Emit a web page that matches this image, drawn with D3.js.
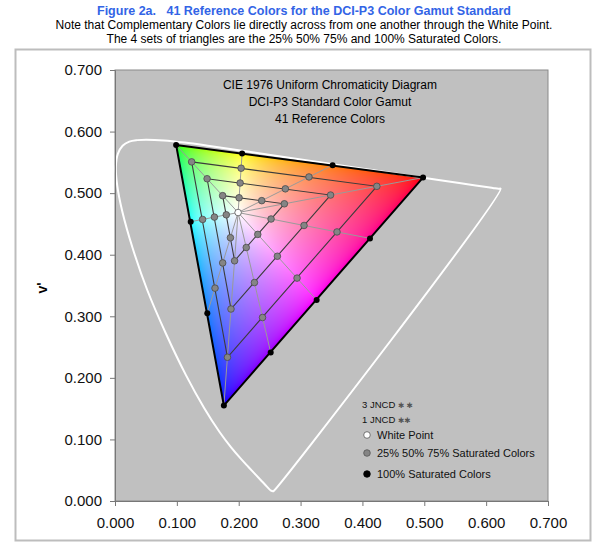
<!DOCTYPE html>
<html><head><meta charset="utf-8">
<script src="https://cdn.jsdelivr.net/npm/d3@7"></script>
<style>
body{margin:0;background:#fff}
svg{display:block}
text{font-family:"Liberation Sans",Arial,Helvetica,sans-serif}
</style>
</head><body>
<svg id="chart" width="600" height="545"></svg>
<script>
// ---------------- data ----------------
const titleLines = [
  "Figure 2a.   41 Reference Colors for the DCI-P3 Color Gamut Standard",
  "Note that Complementary Colors lie directly across from one another through the White Point.",
  "The 4 sets of triangles are the 25% 50% 75% and 100% Saturated Colors."
];
const innerTitle = ["CIE 1976 Uniform Chromaticity Diagram", "DCI-P3 Standard Color Gamut", "41 Reference Colors"];
const xTicks = [0, 0.1, 0.2, 0.3, 0.4, 0.5, 0.6, 0.7];
const yTicks = [0, 0.1, 0.2, 0.3, 0.4, 0.5, 0.6, 0.7];
const yLabel = "v'";

// spectral locus (u', v') 380..700 nm
const spectralLocus = [
  [0.2568,0.0165],[0.2557,0.0159],[0.2522,0.0169],[0.2463,0.0226],[0.2347,0.0350],
  [0.2161,0.0549],[0.2033,0.0688],[0.1877,0.0871],[0.1690,0.1120],[0.1441,0.1510],
  [0.1147,0.2044],[0.0828,0.2708],[0.0521,0.3427],[0.0282,0.4117],[0.0119,0.4698],
  [0.0035,0.5131],[0.0014,0.5430],[0.0046,0.5638],[0.0123,0.5770],[0.0231,0.5837],
  [0.0360,0.5861],[0.0501,0.5868],[0.0792,0.5856],[0.1127,0.5821],[0.1531,0.5766],
  [0.2026,0.5694],[0.2623,0.5604],[0.3315,0.5501],[0.4035,0.5393],[0.4692,0.5296],
  [0.5203,0.5219],[0.5565,0.5165],[0.5830,0.5125],[0.6005,0.5099],[0.6109,0.5084],
  [0.6199,0.5070],[0.6234,0.5073]
];

const whitePoint = [0.1990, 0.4685];
// order around the gamut: G, Y, O, R, Rose, M, Violet, B, Azure, Cyan
const sat100 = [[0.0988,0.5782],[0.2055,0.5645],[0.3518,0.5455],[0.4980,0.5253],[0.4122,0.4265],
                [0.3260,0.3265],[0.2517,0.2411],[0.1760,0.1550],[0.1492,0.3048],[0.1224,0.4536]];
const sat75  = [[0.1239,0.5508],[0.2039,0.5405],[0.3136,0.5263],[0.4233,0.5111],[0.3589,0.4370],
                [0.2943,0.3620],[0.2385,0.2980],[0.1818,0.2334],[0.1617,0.3457],[0.1416,0.4573]];
const sat50  = [[0.1489,0.5234],[0.2023,0.5165],[0.2754,0.5070],[0.3485,0.4969],[0.3056,0.4475],
                [0.2625,0.3975],[0.2254,0.3548],[0.1875,0.3118],[0.1741,0.3867],[0.1607,0.4611]];
const sat25  = [[0.1740,0.4959],[0.2006,0.4925],[0.2372,0.4878],[0.2738,0.4827],[0.2523,0.4580],
                [0.2308,0.4330],[0.2122,0.4117],[0.1933,0.3901],[0.1866,0.4276],[0.1799,0.4648]];
const primaryIdx = [0, 3, 7];

const legendJncd = [["3 JNCD", "\u2731 \u2731"], ["1 JNCD", "\u2731\u2731"]];
const legendItems = [["White Point","white"],["25% 50% 75% Saturated Colors","gray"],["100% Saturated Colors","black"]];

// ---------------- drawing ----------------
const svg = d3.select("#chart");
const x = d3.scaleLinear().domain([0, 0.7]).range([115, 548]);
const y = d3.scaleLinear().domain([0, 0.7]).range([501, 70]);

// outer frame
svg.append("rect").attr("x", 15.5).attr("y", 49.5).attr("width", 575).attr("height", 491)
  .attr("fill", "#fff").attr("stroke", "#bdbdbd").attr("stroke-width", 2);

// titles
svg.selectAll("text.t").data(titleLines).join("text")
  .attr("x", 304).attr("y", (d, i) => 15 + i * 14)
  .attr("text-anchor", "middle").style("white-space", "pre")
  .attr("font-size", (d, i) => i === 0 ? 12.5 : 12)
  .attr("font-weight", (d, i) => i === 0 ? "bold" : "normal")
  .attr("fill", (d, i) => i === 0 ? "#3264e6" : "#000")
  .text(d => d);

// plot area
svg.append("rect").attr("x", x(0)).attr("y", y(0.7)).attr("width", x(0.7) - x(0)).attr("height", y(0) - y(0.7))
  .attr("fill", "#c0c0c0").attr("stroke", "#8a8a8a").attr("stroke-width", 1);

// inner title
svg.selectAll("text.it").data(innerTitle).join("text")
  .attr("x", 330).attr("y", (d, i) => 89 + i * 17)
  .attr("text-anchor", "middle").attr("font-size", 12).attr("fill", "#000")
  .text(d => d);

// gradient fill inside gamut triangle
const tri = primaryIdx.map(i => sat100[i]);
(function () {
  const x0 = Math.floor(x(0)), y0 = Math.floor(y(0.7));
  const w = Math.ceil(x(0.7) - x(0)), h = Math.ceil(y(0) - y(0.7));
  const cv = document.createElement("canvas"); cv.width = w; cv.height = h;
  const ctx = cv.getContext("2d");
  const img = ctx.createImageData(w, h);
  const P = tri.map(p => [x(p[0]), y(p[1])]);
  function inside(px, py) {
    const [a, b, c] = P;
    const d = (b[1] - c[1]) * (a[0] - c[0]) + (c[0] - b[0]) * (a[1] - c[1]);
    const l1 = ((b[1] - c[1]) * (px - c[0]) + (c[0] - b[0]) * (py - c[1])) / d;
    const l2 = ((c[1] - a[1]) * (px - c[0]) + (a[0] - c[0]) * (py - c[1])) / d;
    const l3 = 1 - l1 - l2;
    return l1 >= -0.02 && l2 >= -0.02 && l3 >= -0.02;
  }
  const gam = v => v <= 0.0031308 ? 12.92 * v : 1.055 * Math.pow(v, 1 / 2.4) - 0.055;
  for (let j = 0; j < h; j++) for (let i = 0; i < w; i++) {
    const px = x0 + i + 0.5, py = y0 + j + 0.5;
    if (!inside(px, py)) continue;
    const u = x.invert(px), v = y.invert(py);
    const den = 6 * u - 16 * v + 12;
    const xc = 9 * u / den, yc = 4 * v / den;
    const X = xc / yc, Y = 1, Z = (1 - xc - yc) / yc;
    let R = 2.4935 * X - 0.9314 * Y - 0.4027 * Z;
    let G = -0.8295 * X + 1.7627 * Y + 0.0236 * Z;
    let B = 0.0358 * X - 0.0762 * Y + 0.9569 * Z;
    R = Math.max(R, 0); G = Math.max(G, 0); B = Math.max(B, 0);
    const m = Math.max(R, G, B) || 1;
    const k = (j * w + i) * 4;
    img.data[k] = Math.round(255 * gam(R / m));
    img.data[k + 1] = Math.round(255 * gam(G / m));
    img.data[k + 2] = Math.round(255 * gam(B / m));
    img.data[k + 3] = 255;
  }
  ctx.putImageData(img, 0, 0);
  svg.append("clipPath").attr("id", "triClip").append("polygon")
    .attr("points", tri.map(p => [x(p[0]), y(p[1])].join(",")).join(" "));
  svg.append("image").attr("x", x0).attr("y", y0).attr("width", w).attr("height", h)
    .attr("href", cv.toDataURL()).attr("clip-path", "url(#triClip)");
})();

// spectral locus
svg.append("path").datum(spectralLocus)
  .attr("d", d3.line().x(d => x(d[0])).y(d => y(d[1])).curve(d3.curveCatmullRomClosed))
  .attr("fill", "none").attr("stroke", "#fff").attr("stroke-width", 2);

// radial lines white -> 100% points
svg.selectAll("line.rad").data(sat100).join("line")
  .attr("x1", x(whitePoint[0])).attr("y1", y(whitePoint[1]))
  .attr("x2", d => x(d[0])).attr("y2", d => y(d[1]))
  .attr("stroke", "#9a9a9a").attr("stroke-width", 1);

// triangles
const lineGen = d3.line().x(d => x(d[0])).y(d => y(d[1])).curve(d3.curveLinearClosed);
[sat25, sat50, sat75].forEach(set => {
  svg.append("path").datum(primaryIdx.map(i => set[i])).attr("d", lineGen)
    .attr("fill", "none").attr("stroke", "#3c3c3c").attr("stroke-width", 1.1);
});
svg.append("path").datum(tri).attr("d", lineGen)
  .attr("fill", "none").attr("stroke", "#000").attr("stroke-width", 2);

// points
const grayPts = [].concat(sat25, sat50, sat75);
svg.selectAll("circle.g").data(grayPts).join("circle")
  .attr("cx", d => x(d[0])).attr("cy", d => y(d[1])).attr("r", 3.3)
  .attr("fill", "#858585").attr("stroke", "#4a4a4a").attr("stroke-width", 0.8);
svg.selectAll("circle.b").data(sat100).join("circle")
  .attr("cx", d => x(d[0])).attr("cy", d => y(d[1])).attr("r", 3)
  .attr("fill", "#000");
svg.append("circle").attr("cx", x(whitePoint[0])).attr("cy", y(whitePoint[1])).attr("r", 3.3)
  .attr("fill", "#fff").attr("stroke", "#555").attr("stroke-width", 0.8);

// axes
const gx = svg.append("g").attr("transform", `translate(0,${y(0)})`)
  .call(d3.axisBottom(x).tickValues(xTicks).tickFormat(d3.format(".3f")).tickSize(5).tickPadding(11));
const gy = svg.append("g").attr("transform", `translate(${x(0)},0)`)
  .call(d3.axisLeft(y).tickValues(yTicks).tickFormat(d3.format(".3f")).tickSize(5).tickPadding(8));
[gx, gy].forEach(g => {
  g.selectAll("text").attr("font-size", 15).attr("fill", "#111")
    .attr("font-family", '"Liberation Sans",Arial,sans-serif');
  g.selectAll("line").attr("stroke", "#777");
  g.select(".domain").attr("stroke", "#777");
});
svg.append("text").attr("transform", "translate(47,288) rotate(-90)")
  .attr("text-anchor", "middle").attr("font-size", 14).attr("font-weight", "bold").text(yLabel);

// legend
const lg = svg.append("g");
legendJncd.forEach((d, i) => {
  const t = lg.append("text").attr("x", 362).attr("y", 408 + i * 15).attr("font-size", 9.5).attr("fill", "#111");
  t.append("tspan").text(d[0] + " ");
  t.append("tspan").attr("font-family", "DejaVu Sans").attr("font-size", 7.5).attr("fill", "#555").text(d[1]);
});
legendItems.forEach((d, i) => {
  const cy = [435, 453, 474][i];
  lg.append("circle").attr("cx", 367).attr("cy", cy).attr("r", 3.3)
    .attr("fill", d[1] === "white" ? "#fff" : d[1] === "gray" ? "#858585" : "#000")
    .attr("stroke", d[1] === "black" ? "#000" : "#555").attr("stroke-width", 0.8);
  lg.append("text").attr("x", 377).attr("y", cy + 4).attr("font-size", 11).attr("fill", "#111").text(d[0]);
});
</script>
</body></html>
